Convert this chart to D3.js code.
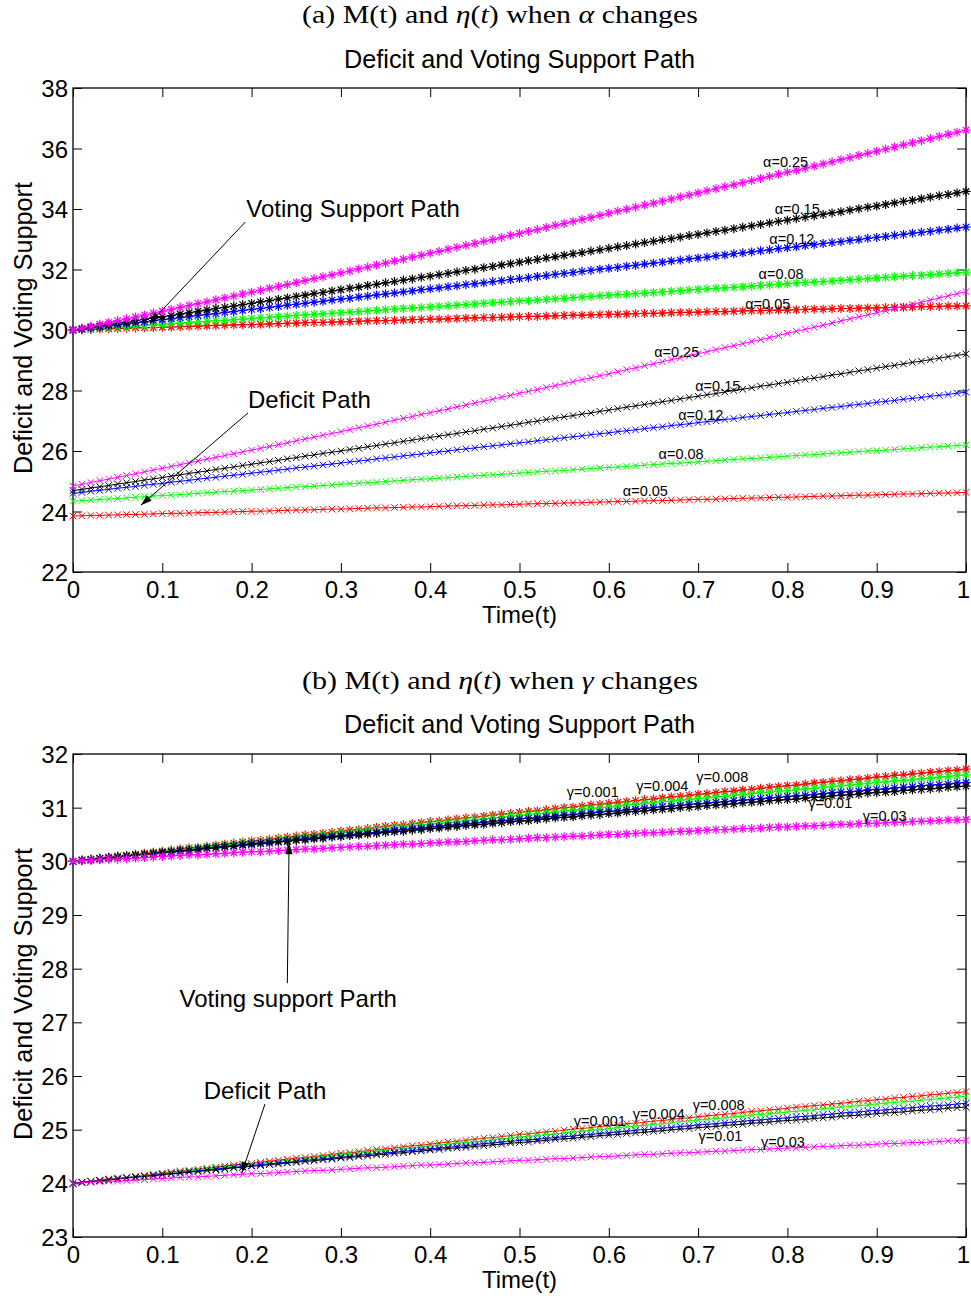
<!DOCTYPE html>
<html><head><meta charset="utf-8">
<script src="https://cdn.jsdelivr.net/npm/d3@7"></script>
<style>body{margin:0;background:#fff} text{white-space:pre}</style>
</head><body><svg id="c" width="971" height="1298" xmlns="http://www.w3.org/2000/svg"></svg>
<script>
// ---------- DATA ----------
const timeT = d3.range(101).map(i => i / 100);   // time grid 0..1, step 0.01
const xTicks = [0,0.1,0.2,0.3,0.4,0.5,0.6,0.7,0.8,0.9,1];
const xTickLabels = ["0","0.1","0.2","0.3","0.4","0.5","0.6","0.7","0.8","0.9","1"];
const yTicksA = [22,24,26,28,30,32,34,36,38];
const yTicksB = [23,24,25,26,27,28,29,30,31,32];
const alphaNames = ["α=0.05","α=0.08","α=0.12","α=0.15","α=0.25"];
const gammaNames = ["γ=0.001","γ=0.004","γ=0.008","γ=0.01","γ=0.03"];

// Panel (a): voting support path (asterisk markers)
const voteA025 = [30.00,30.06,30.12,30.19,30.25,30.31,30.37,30.43,30.50,30.56,30.62,30.68,30.75,30.81,30.87,30.93,31.00,31.06,31.12,31.19,31.25,31.31,31.38,31.44,31.50,31.57,31.63,31.70,31.76,31.82,31.89,31.95,32.02,32.08,32.15,32.21,32.28,32.34,32.41,32.47,32.54,32.60,32.67,32.73,32.80,32.86,32.93,32.99,33.06,33.13,33.19,33.26,33.32,33.39,33.46,33.52,33.59,33.66,33.72,33.79,33.86,33.93,33.99,34.06,34.13,34.19,34.26,34.33,34.40,34.46,34.53,34.60,34.67,34.74,34.80,34.87,34.94,35.01,35.08,35.15,35.22,35.28,35.35,35.42,35.49,35.56,35.63,35.70,35.77,35.84,35.91,35.98,36.05,36.12,36.19,36.26,36.33,36.40,36.47,36.54,36.61];
const voteA015 = [30.00,30.04,30.09,30.13,30.18,30.22,30.26,30.31,30.35,30.40,30.44,30.48,30.53,30.57,30.62,30.66,30.71,30.75,30.79,30.84,30.88,30.93,30.97,31.02,31.06,31.11,31.15,31.20,31.24,31.29,31.33,31.38,31.42,31.47,31.51,31.56,31.60,31.65,31.69,31.74,31.78,31.83,31.87,31.92,31.97,32.01,32.06,32.10,32.15,32.19,32.24,32.29,32.33,32.38,32.42,32.47,32.52,32.56,32.61,32.65,32.70,32.75,32.79,32.84,32.89,32.93,32.98,33.02,33.07,33.12,33.16,33.21,33.26,33.30,33.35,33.40,33.44,33.49,33.54,33.59,33.63,33.68,33.73,33.77,33.82,33.87,33.91,33.96,34.01,34.06,34.10,34.15,34.20,34.25,34.29,34.34,34.39,34.44,34.48,34.53,34.58];
const voteA012 = [30.00,30.03,30.07,30.10,30.14,30.17,30.20,30.24,30.27,30.31,30.34,30.37,30.41,30.44,30.48,30.51,30.54,30.58,30.61,30.65,30.68,30.71,30.75,30.78,30.82,30.85,30.88,30.92,30.95,30.99,31.02,31.05,31.09,31.12,31.16,31.19,31.22,31.26,31.29,31.33,31.36,31.39,31.43,31.46,31.50,31.53,31.56,31.60,31.63,31.67,31.70,31.73,31.77,31.80,31.84,31.87,31.90,31.94,31.97,32.01,32.04,32.07,32.11,32.14,32.18,32.21,32.24,32.28,32.31,32.35,32.38,32.41,32.45,32.48,32.52,32.55,32.58,32.62,32.65,32.69,32.72,32.75,32.79,32.82,32.86,32.89,32.92,32.96,32.99,33.03,33.06,33.09,33.13,33.16,33.20,33.23,33.26,33.30,33.33,33.37,33.40];
const voteA008 = [30.00,30.02,30.04,30.06,30.08,30.10,30.11,30.13,30.15,30.17,30.19,30.21,30.23,30.25,30.27,30.29,30.31,30.32,30.34,30.36,30.38,30.40,30.42,30.44,30.46,30.48,30.50,30.52,30.53,30.55,30.57,30.59,30.61,30.63,30.65,30.67,30.69,30.71,30.73,30.74,30.76,30.78,30.80,30.82,30.84,30.86,30.88,30.90,30.92,30.94,30.96,30.97,30.99,31.01,31.03,31.05,31.07,31.09,31.11,31.13,31.15,31.17,31.18,31.20,31.22,31.24,31.26,31.28,31.30,31.32,31.34,31.36,31.38,31.39,31.41,31.43,31.45,31.47,31.49,31.51,31.53,31.55,31.57,31.59,31.60,31.62,31.64,31.66,31.68,31.70,31.72,31.74,31.76,31.78,31.80,31.81,31.83,31.85,31.87,31.89,31.91];
const voteA005 = [30.00,30.01,30.02,30.03,30.04,30.05,30.06,30.07,30.08,30.08,30.09,30.10,30.11,30.12,30.13,30.14,30.15,30.16,30.17,30.18,30.18,30.19,30.20,30.21,30.22,30.23,30.24,30.25,30.25,30.26,30.27,30.28,30.29,30.30,30.31,30.31,30.32,30.33,30.34,30.35,30.36,30.36,30.37,30.38,30.39,30.40,30.41,30.41,30.42,30.43,30.44,30.45,30.45,30.46,30.47,30.48,30.49,30.49,30.50,30.51,30.52,30.52,30.53,30.54,30.55,30.55,30.56,30.57,30.58,30.58,30.59,30.60,30.61,30.61,30.62,30.63,30.64,30.64,30.65,30.66,30.66,30.67,30.68,30.69,30.69,30.70,30.71,30.71,30.72,30.73,30.73,30.74,30.75,30.75,30.76,30.77,30.77,30.78,30.79,30.79,30.80];
// Panel (a): deficit path (x markers)
const defA025 = [24.84,24.90,24.96,25.02,25.07,25.13,25.19,25.25,25.31,25.37,25.43,25.49,25.55,25.61,25.67,25.73,25.79,25.85,25.91,25.97,26.03,26.09,26.15,26.21,26.27,26.34,26.40,26.46,26.52,26.58,26.64,26.71,26.77,26.83,26.89,26.95,27.02,27.08,27.14,27.21,27.27,27.33,27.39,27.46,27.52,27.59,27.65,27.71,27.78,27.84,27.91,27.97,28.03,28.10,28.16,28.23,28.29,28.36,28.42,28.49,28.55,28.62,28.69,28.75,28.82,28.88,28.95,29.02,29.08,29.15,29.22,29.28,29.35,29.42,29.48,29.55,29.62,29.68,29.75,29.82,29.89,29.96,30.02,30.09,30.16,30.23,30.30,30.37,30.44,30.50,30.57,30.64,30.71,30.78,30.85,30.92,30.99,31.06,31.13,31.20,31.27];
const defA015 = [24.69,24.73,24.78,24.82,24.86,24.91,24.95,24.99,25.04,25.08,25.12,25.17,25.21,25.26,25.30,25.34,25.39,25.43,25.47,25.52,25.56,25.61,25.65,25.69,25.74,25.78,25.83,25.87,25.92,25.96,26.00,26.05,26.09,26.14,26.18,26.23,26.27,26.32,26.36,26.41,26.45,26.49,26.54,26.58,26.63,26.67,26.72,26.76,26.81,26.85,26.90,26.95,26.99,27.04,27.08,27.13,27.17,27.22,27.26,27.31,27.35,27.40,27.45,27.49,27.54,27.58,27.63,27.67,27.72,27.77,27.81,27.86,27.90,27.95,28.00,28.04,28.09,28.14,28.18,28.23,28.27,28.32,28.37,28.41,28.46,28.51,28.55,28.60,28.65,28.69,28.74,28.79,28.83,28.88,28.93,28.97,29.02,29.07,29.12,29.16,29.21];
const defA012 = [24.60,24.63,24.67,24.70,24.73,24.77,24.80,24.83,24.87,24.90,24.93,24.97,25.00,25.03,25.07,25.10,25.13,25.17,25.20,25.23,25.27,25.30,25.33,25.37,25.40,25.44,25.47,25.50,25.54,25.57,25.60,25.64,25.67,25.70,25.74,25.77,25.80,25.84,25.87,25.90,25.94,25.97,26.00,26.04,26.07,26.10,26.14,26.17,26.20,26.24,26.27,26.30,26.34,26.37,26.40,26.44,26.47,26.50,26.54,26.57,26.60,26.64,26.67,26.70,26.74,26.77,26.80,26.84,26.87,26.90,26.94,26.97,27.00,27.04,27.07,27.11,27.14,27.17,27.21,27.24,27.27,27.31,27.34,27.37,27.41,27.44,27.47,27.51,27.54,27.57,27.61,27.64,27.67,27.71,27.74,27.77,27.81,27.84,27.87,27.91,27.94];
const defA008 = [24.34,24.36,24.38,24.40,24.41,24.43,24.45,24.47,24.49,24.51,24.53,24.54,24.56,24.58,24.60,24.62,24.64,24.66,24.67,24.69,24.71,24.73,24.75,24.77,24.79,24.81,24.82,24.84,24.86,24.88,24.90,24.92,24.94,24.95,24.97,24.99,25.01,25.03,25.05,25.07,25.08,25.10,25.12,25.14,25.16,25.18,25.20,25.21,25.23,25.25,25.27,25.29,25.31,25.33,25.34,25.36,25.38,25.40,25.42,25.44,25.46,25.47,25.49,25.51,25.53,25.55,25.57,25.59,25.60,25.62,25.64,25.66,25.68,25.70,25.72,25.74,25.75,25.77,25.79,25.81,25.83,25.85,25.87,25.88,25.90,25.92,25.94,25.96,25.98,26.00,26.01,26.03,26.05,26.07,26.09,26.11,26.13,26.14,26.16,26.18,26.20];
const defA005 = [23.85,23.86,23.87,23.87,23.88,23.89,23.90,23.90,23.91,23.92,23.93,23.94,23.94,23.95,23.96,23.97,23.97,23.98,23.99,24.00,24.01,24.01,24.02,24.03,24.04,24.05,24.05,24.06,24.07,24.08,24.08,24.09,24.10,24.11,24.12,24.12,24.13,24.14,24.15,24.15,24.16,24.17,24.18,24.19,24.19,24.20,24.21,24.22,24.22,24.23,24.24,24.25,24.26,24.26,24.27,24.28,24.29,24.29,24.30,24.31,24.32,24.33,24.33,24.34,24.35,24.36,24.36,24.37,24.38,24.39,24.40,24.40,24.41,24.42,24.43,24.44,24.44,24.45,24.46,24.47,24.47,24.48,24.49,24.50,24.51,24.51,24.52,24.53,24.54,24.54,24.55,24.56,24.57,24.58,24.58,24.59,24.60,24.61,24.61,24.62,24.63];

// Panel (b): voting support path
const voteG0001 = [30.00,30.02,30.04,30.06,30.08,30.10,30.11,30.13,30.15,30.17,30.19,30.21,30.23,30.25,30.26,30.28,30.30,30.32,30.34,30.36,30.38,30.39,30.41,30.43,30.45,30.47,30.49,30.50,30.52,30.54,30.56,30.58,30.59,30.61,30.63,30.65,30.67,30.68,30.70,30.72,30.74,30.75,30.77,30.79,30.81,30.82,30.84,30.86,30.88,30.89,30.91,30.93,30.94,30.96,30.98,31.00,31.01,31.03,31.05,31.06,31.08,31.10,31.11,31.13,31.15,31.16,31.18,31.20,31.21,31.23,31.25,31.26,31.28,31.30,31.31,31.33,31.34,31.36,31.38,31.39,31.41,31.42,31.44,31.46,31.47,31.49,31.50,31.52,31.53,31.55,31.57,31.58,31.60,31.61,31.63,31.64,31.66,31.67,31.69,31.70,31.72];
const voteG0004 = [30.00,30.02,30.04,30.05,30.07,30.09,30.11,30.13,30.14,30.16,30.18,30.20,30.21,30.23,30.25,30.27,30.28,30.30,30.32,30.34,30.35,30.37,30.39,30.41,30.42,30.44,30.46,30.47,30.49,30.51,30.53,30.54,30.56,30.58,30.59,30.61,30.63,30.64,30.66,30.68,30.69,30.71,30.72,30.74,30.76,30.77,30.79,30.81,30.82,30.84,30.86,30.87,30.89,30.90,30.92,30.94,30.95,30.97,30.98,31.00,31.01,31.03,31.05,31.06,31.08,31.09,31.11,31.12,31.14,31.15,31.17,31.18,31.20,31.21,31.23,31.24,31.26,31.28,31.29,31.31,31.32,31.33,31.35,31.36,31.38,31.39,31.41,31.42,31.44,31.45,31.47,31.48,31.50,31.51,31.52,31.54,31.55,31.57,31.58,31.60,31.61];
const voteG0008 = [30.00,30.02,30.03,30.05,30.07,30.08,30.10,30.12,30.13,30.15,30.17,30.18,30.20,30.21,30.23,30.25,30.26,30.28,30.29,30.31,30.33,30.34,30.36,30.37,30.39,30.41,30.42,30.44,30.45,30.47,30.48,30.50,30.51,30.53,30.54,30.56,30.58,30.59,30.61,30.62,30.64,30.65,30.67,30.68,30.70,30.71,30.73,30.74,30.76,30.77,30.79,30.80,30.81,30.83,30.84,30.86,30.87,30.89,30.90,30.92,30.93,30.94,30.96,30.97,30.99,31.00,31.02,31.03,31.04,31.06,31.07,31.08,31.10,31.11,31.13,31.14,31.15,31.17,31.18,31.19,31.21,31.22,31.23,31.25,31.26,31.28,31.29,31.30,31.31,31.33,31.34,31.35,31.37,31.38,31.39,31.41,31.42,31.43,31.44,31.46,31.47];
const voteG001 = [30.00,30.02,30.03,30.05,30.06,30.08,30.10,30.11,30.13,30.14,30.16,30.17,30.19,30.20,30.22,30.24,30.25,30.27,30.28,30.30,30.31,30.33,30.34,30.36,30.37,30.39,30.40,30.42,30.43,30.45,30.46,30.48,30.49,30.51,30.52,30.54,30.55,30.56,30.58,30.59,30.61,30.62,30.64,30.65,30.67,30.68,30.69,30.71,30.72,30.74,30.75,30.76,30.78,30.79,30.81,30.82,30.83,30.85,30.86,30.87,30.89,30.90,30.92,30.93,30.94,30.96,30.97,30.98,31.00,31.01,31.02,31.04,31.05,31.06,31.07,31.09,31.10,31.11,31.13,31.14,31.15,31.16,31.18,31.19,31.20,31.22,31.23,31.24,31.25,31.27,31.28,31.29,31.30,31.32,31.33,31.34,31.35,31.36,31.38,31.39,31.40];
const voteG003 = [30.00,30.01,30.02,30.03,30.04,30.04,30.05,30.06,30.07,30.08,30.09,30.10,30.11,30.12,30.12,30.13,30.14,30.15,30.16,30.17,30.18,30.18,30.19,30.20,30.21,30.22,30.23,30.23,30.24,30.25,30.26,30.27,30.28,30.28,30.29,30.30,30.31,30.32,30.32,30.33,30.34,30.35,30.36,30.36,30.37,30.38,30.39,30.40,30.40,30.41,30.42,30.43,30.44,30.44,30.45,30.46,30.47,30.47,30.48,30.49,30.50,30.50,30.51,30.52,30.53,30.53,30.54,30.55,30.56,30.56,30.57,30.58,30.59,30.59,30.60,30.61,30.61,30.62,30.63,30.64,30.64,30.65,30.66,30.66,30.67,30.68,30.69,30.69,30.70,30.71,30.71,30.72,30.73,30.73,30.74,30.75,30.75,30.76,30.77,30.77,30.78];
// Panel (b): deficit path
const defG0001 = [24.00,24.02,24.04,24.06,24.08,24.10,24.11,24.13,24.15,24.17,24.19,24.21,24.23,24.24,24.26,24.28,24.30,24.32,24.34,24.36,24.37,24.39,24.41,24.43,24.45,24.47,24.48,24.50,24.52,24.54,24.56,24.57,24.59,24.61,24.63,24.64,24.66,24.68,24.70,24.71,24.73,24.75,24.77,24.78,24.80,24.82,24.84,24.85,24.87,24.89,24.91,24.92,24.94,24.96,24.97,24.99,25.01,25.02,25.04,25.06,25.07,25.09,25.11,25.12,25.14,25.16,25.17,25.19,25.21,25.22,25.24,25.26,25.27,25.29,25.30,25.32,25.34,25.35,25.37,25.38,25.40,25.42,25.43,25.45,25.46,25.48,25.49,25.51,25.53,25.54,25.56,25.57,25.59,25.60,25.62,25.63,25.65,25.66,25.68,25.69,25.71];
const defG0004 = [24.00,24.02,24.04,24.05,24.07,24.09,24.11,24.13,24.14,24.16,24.18,24.20,24.22,24.23,24.25,24.27,24.29,24.30,24.32,24.34,24.36,24.37,24.39,24.41,24.43,24.44,24.46,24.48,24.49,24.51,24.53,24.55,24.56,24.58,24.60,24.61,24.63,24.65,24.66,24.68,24.70,24.71,24.73,24.75,24.76,24.78,24.79,24.81,24.83,24.84,24.86,24.88,24.89,24.91,24.92,24.94,24.96,24.97,24.99,25.00,25.02,25.04,25.05,25.07,25.08,25.10,25.11,25.13,25.15,25.16,25.18,25.19,25.21,25.22,25.24,25.25,25.27,25.28,25.30,25.31,25.33,25.34,25.36,25.37,25.39,25.40,25.42,25.43,25.45,25.46,25.48,25.49,25.51,25.52,25.53,25.55,25.56,25.58,25.59,25.61,25.62];
const defG0008 = [24.00,24.02,24.03,24.05,24.07,24.08,24.10,24.12,24.13,24.15,24.17,24.18,24.20,24.22,24.23,24.25,24.27,24.28,24.30,24.31,24.33,24.35,24.36,24.38,24.39,24.41,24.43,24.44,24.46,24.47,24.49,24.50,24.52,24.54,24.55,24.57,24.58,24.60,24.61,24.63,24.64,24.66,24.67,24.69,24.70,24.72,24.74,24.75,24.77,24.78,24.80,24.81,24.82,24.84,24.85,24.87,24.88,24.90,24.91,24.93,24.94,24.96,24.97,24.99,25.00,25.01,25.03,25.04,25.06,25.07,25.09,25.10,25.11,25.13,25.14,25.16,25.17,25.18,25.20,25.21,25.22,25.24,25.25,25.26,25.28,25.29,25.31,25.32,25.33,25.35,25.36,25.37,25.39,25.40,25.41,25.43,25.44,25.45,25.46,25.48,25.49];
const defG001 = [24.00,24.02,24.03,24.05,24.06,24.08,24.10,24.11,24.13,24.14,24.16,24.18,24.19,24.21,24.22,24.24,24.25,24.27,24.29,24.30,24.32,24.33,24.35,24.36,24.38,24.39,24.41,24.42,24.44,24.45,24.47,24.48,24.50,24.51,24.53,24.54,24.56,24.57,24.59,24.60,24.62,24.63,24.65,24.66,24.67,24.69,24.70,24.72,24.73,24.75,24.76,24.77,24.79,24.80,24.82,24.83,24.84,24.86,24.87,24.89,24.90,24.91,24.93,24.94,24.95,24.97,24.98,25.00,25.01,25.02,25.04,25.05,25.06,25.08,25.09,25.10,25.12,25.13,25.14,25.16,25.17,25.18,25.19,25.21,25.22,25.23,25.25,25.26,25.27,25.28,25.30,25.31,25.32,25.33,25.35,25.36,25.37,25.38,25.40,25.41,25.42];
const defG003 = [24.00,24.01,24.02,24.03,24.04,24.04,24.05,24.06,24.07,24.08,24.09,24.10,24.11,24.12,24.12,24.13,24.14,24.15,24.16,24.17,24.18,24.18,24.19,24.20,24.21,24.22,24.23,24.24,24.24,24.25,24.26,24.27,24.28,24.29,24.29,24.30,24.31,24.32,24.33,24.34,24.34,24.35,24.36,24.37,24.38,24.38,24.39,24.40,24.41,24.42,24.43,24.43,24.44,24.45,24.46,24.46,24.47,24.48,24.49,24.50,24.50,24.51,24.52,24.53,24.54,24.54,24.55,24.56,24.57,24.57,24.58,24.59,24.60,24.60,24.61,24.62,24.63,24.63,24.64,24.65,24.66,24.66,24.67,24.68,24.69,24.69,24.70,24.71,24.71,24.72,24.73,24.74,24.74,24.75,24.76,24.76,24.77,24.78,24.79,24.79,24.80];

const seriesColors = ["#ff0000","#00ff00","#0000ff","#000000","#ff00ff"];

// ---------- DRAW ----------
const svg = d3.select("#c");
const SANS = '"Liberation Sans", Arial, Helvetica, sans-serif';
const SERIF = '"Liberation Serif", "Times New Roman", serif';

function starPath(r){ const k = r*0.72; return `M${-r},0H${r}M0,${-r}V${r}M${-k},${-k}L${k},${k}M${-k},${k}L${k},${-k}`; }
function crossPath(r){ return `M${-r},${-r}L${r},${r}M${-r},${r}L${r},${-r}`; }

function drawPanel(cfg){
  const g = svg.append("g");
  const x = d3.scaleLinear().domain([0,1]).range([cfg.left, cfg.right]);
  const y = d3.scaleLinear().domain(cfg.yDomain).range([cfg.bottom, cfg.top]);

  // subtitle (LaTeX-like)
  const st = g.append("text").attr("x", 500).attr("y", cfg.subY).attr("text-anchor","middle")
    .attr("font-family", SERIF).attr("font-size", 25)
    .attr("textLength", 396).attr("lengthAdjust","spacingAndGlyphs");
  st.append("tspan").text(`(${cfg.letter}) M(t) and `);
  st.append("tspan").attr("font-style","italic").text("η");
  st.append("tspan").text("(");
  st.append("tspan").attr("font-style","italic").text("t");
  st.append("tspan").text(") when ");
  st.append("tspan").attr("font-style","italic").text(cfg.greek);
  st.append("tspan").text(" changes");

  // title
  g.append("text").attr("x", (cfg.left+cfg.right)/2).attr("y", cfg.titleY).attr("text-anchor","middle")
    .attr("font-family", SANS).attr("font-size", 25)
    .attr("textLength", 351).attr("lengthAdjust","spacingAndGlyphs")
    .text("Deficit and Voting Support Path");

  // axes
  const fmt = d => xTickLabels[xTicks.indexOf(d)];
  const ax = g.append("g").attr("transform", `translate(0,${cfg.bottom})`)
    .call(d3.axisBottom(x).tickValues(xTicks).tickFormat(fmt).tickSize(-9).tickPadding(9));
  const axT = g.append("g").attr("transform", `translate(0,${cfg.top})`)
    .call(d3.axisTop(x).tickValues(xTicks).tickFormat("").tickSize(-9));
  const ay = g.append("g").attr("transform", `translate(${cfg.left},0)`)
    .call(d3.axisLeft(y).tickValues(cfg.yTicks).tickFormat(d3.format("d")).tickSize(-9).tickPadding(5));
  const ayR = g.append("g").attr("transform", `translate(${cfg.right},0)`)
    .call(d3.axisRight(y).tickValues(cfg.yTicks).tickFormat("").tickSize(-9));
  [ax, axT, ay, ayR].forEach(a => {
    a.select(".domain").remove();
    a.selectAll(".tick line").attr("stroke","#000").attr("stroke-width",1);
    a.selectAll("text").attr("font-family", SANS).attr("font-size", 24).attr("fill","#000");
  });
  ay.selectAll("text").attr("dy","0.36em");
  // keep the last x label ("1") inside the picture
  ax.selectAll(".tick text").filter(d => d === 1).attr("dx", -3);
  g.append("rect").attr("x", cfg.left).attr("y", cfg.top)
    .attr("width", cfg.right-cfg.left).attr("height", cfg.bottom-cfg.top)
    .attr("fill","none").attr("stroke","#000").attr("stroke-width",1.3);

  // axis labels
  g.append("text").attr("x", (cfg.left+cfg.right)/2).attr("y", cfg.xLabelY).attr("text-anchor","middle")
    .attr("font-family", SANS).attr("font-size", 24).text("Time(t)");
  g.append("text").attr("transform", `translate(32,${cfg.yLabelC}) rotate(-90)`).attr("text-anchor","middle")
    .attr("font-family", SANS).attr("font-size", 25)
    .attr("textLength", 292).attr("lengthAdjust","spacingAndGlyphs")
    .text("Deficit and Voting Support");

  // series
  const line = d3.line().x((d,i) => x(timeT[i])).y(d => y(d));
  cfg.series.forEach(s => {
    const sg = g.append("g");
    sg.append("path").attr("d", line(s.values)).attr("fill","none")
      .attr("stroke", s.color).attr("stroke-width", 1);
    sg.selectAll("path.mk").data(s.values).join("path").attr("class","mk")
      .attr("transform", (d,i) => `translate(${x(timeT[i])},${y(d)})`)
      .attr("d", s.marker === "star" ? starPath(4.5) : crossPath(3.3))
      .attr("fill","none").attr("stroke", s.color)
      .attr("stroke-width", s.marker === "star" ? 1.2 : 1);
  });

  // series labels
  cfg.labels.forEach(l => {
    g.append("text").attr("x", x(l.t)).attr("y", y(l.v)).attr("dy","0.36em")
      .attr("text-anchor","middle").attr("font-family", SANS).attr("font-size", 14.5)
      .attr("fill","#000").text(l.text);
  });

  // annotations with arrows
  cfg.annots.forEach(a => {
    g.append("text").attr("x", x(a.t)).attr("y", y(a.v)).attr("dy","0.36em")
      .attr("text-anchor", a.anchor).attr("font-family", SANS).attr("font-size", 24).text(a.text);
    const x1 = x(a.from[0]), y1 = y(a.from[1]), x2 = x(a.to[0]), y2 = y(a.to[1]);
    g.append("line").attr("x1",x1).attr("y1",y1).attr("x2",x2).attr("y2",y2)
      .attr("stroke","#000").attr("stroke-width",1);
    const ang = Math.atan2(y2-y1, x2-x1), L = 11, W = 3.6;
    const bx = x2 - L*Math.cos(ang), by = y2 - L*Math.sin(ang);
    const px = -Math.sin(ang)*W, py = Math.cos(ang)*W;
    g.append("path").attr("d", `M${x2},${y2}L${bx+px},${by+py}L${bx-px},${by-py}Z`).attr("fill","#000");
  });
}

drawPanel({
  letter:"a", greek:"α", subY:23, titleY:68,
  left:73, right:966, top:88, bottom:572, yDomain:[22,38], yTicks:yTicksA,
  xLabelY:623, yLabelC:328,
  series:[
    {values:voteA005, color:seriesColors[0], marker:"star"},
    {values:defA005,  color:seriesColors[0], marker:"cross"},
    {values:voteA008, color:seriesColors[1], marker:"star"},
    {values:defA008,  color:seriesColors[1], marker:"cross"},
    {values:voteA012, color:seriesColors[2], marker:"star"},
    {values:defA012,  color:seriesColors[2], marker:"cross"},
    {values:voteA015, color:seriesColors[3], marker:"star"},
    {values:defA015,  color:seriesColors[3], marker:"cross"},
    {values:voteA025, color:seriesColors[4], marker:"star"},
    {values:defA025,  color:seriesColors[4], marker:"cross"}
  ],
  labels:[
    {text:alphaNames[4], t:0.798, v:35.55}, {text:alphaNames[3], t:0.811, v:34.00},
    {text:alphaNames[2], t:0.805, v:33.01}, {text:alphaNames[1], t:0.793, v:31.85},
    {text:alphaNames[0], t:0.778, v:30.86},
    {text:alphaNames[4], t:0.676, v:29.27}, {text:alphaNames[3], t:0.722, v:28.15},
    {text:alphaNames[2], t:0.703, v:27.19}, {text:alphaNames[1], t:0.681, v:25.90},
    {text:alphaNames[0], t:0.641, v:24.68}
  ],
  annots:[
    {text:"Voting Support Path", t:0.194, v:34.03, anchor:"start", from:[0.193,33.57], to:[0.086,30.23]},
    {text:"Deficit Path", t:0.196, v:27.72, anchor:"start", from:[0.196,27.26], to:[0.076,24.21]}
  ]
});

drawPanel({
  letter:"b", greek:"γ", subY:689, titleY:733,
  left:73, right:966, top:754, bottom:1237, yDomain:[23,32], yTicks:yTicksB,
  xLabelY:1288, yLabelC:994,
  series:[
    {values:voteG0001, color:seriesColors[0], marker:"star"},
    {values:defG0001,  color:seriesColors[0], marker:"cross"},
    {values:voteG0004, color:seriesColors[1], marker:"star"},
    {values:defG0004,  color:seriesColors[1], marker:"cross"},
    {values:voteG0008, color:seriesColors[2], marker:"star"},
    {values:defG0008,  color:seriesColors[2], marker:"cross"},
    {values:voteG001,  color:seriesColors[3], marker:"star"},
    {values:defG001,   color:seriesColors[3], marker:"cross"},
    {values:voteG003,  color:seriesColors[4], marker:"star"},
    {values:defG003,   color:seriesColors[4], marker:"cross"}
  ],
  labels:[
    {text:gammaNames[0], t:0.582, v:31.29}, {text:gammaNames[1], t:0.660, v:31.40},
    {text:gammaNames[2], t:0.727, v:31.57}, {text:gammaNames[3], t:0.848, v:31.09},
    {text:gammaNames[4], t:0.909, v:30.84},
    {text:gammaNames[0], t:0.590, v:25.16}, {text:gammaNames[1], t:0.656, v:25.29},
    {text:gammaNames[2], t:0.723, v:25.46}, {text:gammaNames[3], t:0.725, v:24.88},
    {text:gammaNames[4], t:0.795, v:24.77}
  ],
  annots:[
    {text:"Voting support Parth", t:0.241, v:27.45, anchor:"middle", from:[0.240,27.73], to:[0.242,30.34]},
    {text:"Deficit Path", t:0.215, v:25.74, anchor:"middle", from:[0.215,25.48], to:[0.189,24.19]}
  ]
});
</script>
</body></html>
